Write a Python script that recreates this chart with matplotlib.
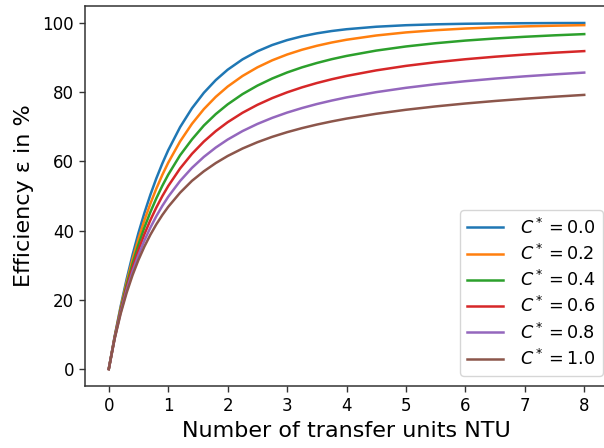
import matplotlib
matplotlib.use("Agg")
import matplotlib.pyplot as plt

ntu = [0.0, 0.1, 0.2, 0.3, 0.4, 0.5, 0.6, 0.7, 0.8, 0.9, 1.0, 1.2, 1.4, 1.6, 1.8, 2.0,
       2.25, 2.5, 2.75, 3.0, 3.25, 3.5, 3.75, 4.0, 4.5, 5.0, 5.5, 6.0, 6.5, 7.0, 7.5, 8.0]

eff_c00 = [0.0, 9.52, 18.13, 25.92, 32.97, 39.35, 45.12, 50.34, 55.07, 59.34, 63.21,
           69.88, 75.34, 79.81, 83.47, 86.47, 89.46, 91.79, 93.61, 95.02, 96.12, 96.98,
           97.65, 98.17, 98.89, 99.33, 99.59, 99.75, 99.85, 99.91, 99.95, 99.97]
eff_c02 = [0.0, 9.37, 17.67, 25.07, 31.69, 37.62, 42.97, 47.77, 52.11, 56.05, 59.60,
           65.75, 70.85, 75.09, 78.63, 81.60, 84.66, 87.15, 89.19, 90.86, 92.24, 93.38,
           94.33, 95.13, 96.36, 97.25, 97.89, 98.37, 98.72, 98.99, 99.19, 99.35]
eff_c04 = [0.0, 9.22, 17.22, 24.25, 30.46, 35.98, 40.92, 45.33, 49.31, 52.90, 56.14,
           61.76, 66.34, 70.35, 73.65, 76.46, 79.42, 81.87, 83.93, 85.67, 87.15, 88.41,
           89.51, 90.45, 92.00, 93.19, 94.13, 94.89, 95.49, 95.99, 96.41, 96.76]
eff_c06 = [0.0, 9.08, 16.79, 23.46, 29.29, 34.42, 38.97, 43.03, 46.65, 49.91, 52.86,
           57.94, 62.17, 65.72, 68.73, 71.30, 74.03, 76.32, 78.27, 79.93, 81.37, 82.62,
           83.71, 84.67, 86.28, 87.58, 88.63, 89.50, 90.23, 90.85, 91.39, 91.85]
eff_c08 = [0.0, 8.94, 16.38, 22.71, 28.18, 32.94, 37.14, 40.85, 44.15, 47.10, 49.76,
           54.33, 58.12, 61.29, 63.98, 66.29, 68.74, 70.80, 72.56, 74.08, 75.39, 76.55,
           77.56, 78.47, 79.99, 81.24, 82.28, 83.15, 83.91, 84.56, 85.13, 85.64]
eff_c10 = [0.0, 8.80, 15.97, 21.99, 27.12, 31.54, 35.40, 38.79, 41.79, 44.46, 46.85,
           50.94, 54.37, 57.13, 59.50, 61.54, 63.70, 65.52, 67.08, 68.42, 69.59, 70.62,
           71.53, 72.35, 73.74, 74.90, 75.87, 76.71, 77.44, 78.09, 78.67, 79.20]

series = [eff_c00, eff_c02, eff_c04, eff_c06, eff_c08, eff_c10]
labels = [r"$C^* = 0.0$", r"$C^* = 0.2$", r"$C^* = 0.4$",
          r"$C^* = 0.6$", r"$C^* = 0.8$", r"$C^* = 1.0$"]
xticks = [0, 1, 2, 3, 4, 5, 6, 7, 8]
yticks = [0, 20, 40, 60, 80, 100]

plt.rcParams['font.family'] = ['DejaVu Sans']
fig = plt.figure(figsize=(6.04, 4.48), dpi=100)
W, H = 604, 448
left, right, top, bottom = 85, 608.0, 5.7, 386.3
ax = fig.add_axes([left / W, 1 - bottom / H, (right - left) / W, (bottom - top) / H])

for y, lab in zip(series, labels):
    ax.plot(ntu, y, lw=1.8, label=lab)

ax.set_xticks(xticks)
ax.set_yticks(yticks)
ax.tick_params(labelsize=12, length=4.5, width=1.0, color="#333333")
for s in ax.spines.values():
    s.set_linewidth(1.1)
    s.set_color("#333333")
ax.set_xlabel("Number of transfer units NTU", fontsize=16, labelpad=4)
ax.set_ylabel("Efficiency ε in %", fontsize=16, labelpad=6)
ax.legend(loc="lower right", fontsize=12.7, handlelength=2.0, handletextpad=1.0,
          labelspacing=0.35, borderaxespad=0,
          bbox_to_anchor=(603 / W, 1 - 376 / H), bbox_transform=fig.transFigure)

fig.savefig("out.png", dpi=100)
